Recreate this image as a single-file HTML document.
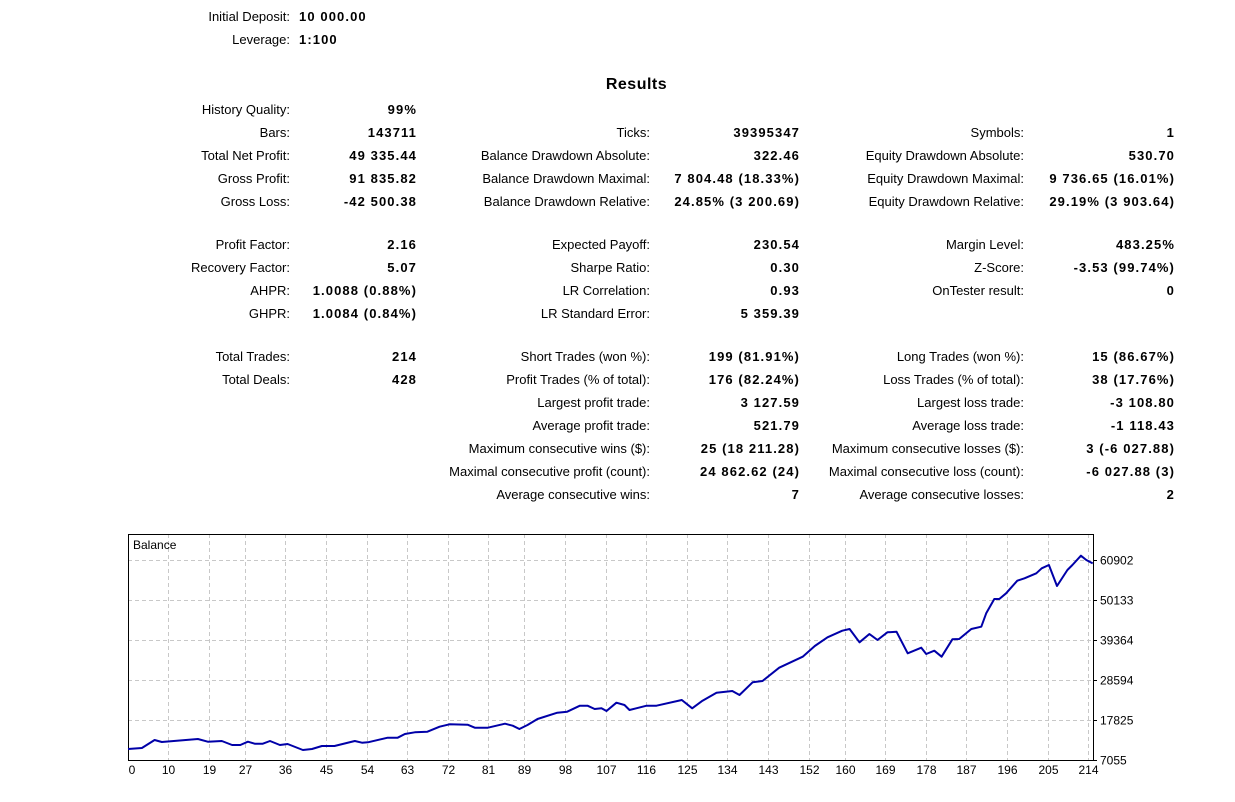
<!DOCTYPE html>
<html><head><meta charset="utf-8">
<style>
body{margin:0;width:1235px;height:802px;background:#fff;font-family:"Liberation Sans",sans-serif;font-size:13px;color:#000;position:relative;overflow:hidden}
.l,.v{position:absolute;white-space:nowrap;line-height:14px}
.l{text-align:right}
.v{text-align:right;font-weight:bold;letter-spacing:1.1px;margin-right:-1px}
#title{position:absolute;left:0;width:1273px;text-align:center;top:76px;font-weight:bold;font-size:16px;letter-spacing:0.5px}
svg{position:absolute;left:0;top:0}
</style></head><body>
<div class="l" style="right:945px;top:10px">Initial Deposit:</div>
<div class="v" style="left:299px;top:10px;text-align:left">10 000.00</div>
<div class="l" style="right:945px;top:33px">Leverage:</div>
<div class="v" style="left:299px;top:33px;text-align:left">1:100</div>
<div id="title">Results</div>
<div id="stats"></div>
<svg id="chart" width="1235" height="802"></svg>
<script>
var rows=[
[110,["History Quality:","99%"],null,null],
[133,["Bars:","143711"],["Ticks:","39395347"],["Symbols:","1"]],
[156,["Total Net Profit:","49 335.44"],["Balance Drawdown Absolute:","322.46"],["Equity Drawdown Absolute:","530.70"]],
[179,["Gross Profit:","91 835.82"],["Balance Drawdown Maximal:","7 804.48 (18.33%)"],["Equity Drawdown Maximal:","9 736.65 (16.01%)"]],
[202,["Gross Loss:","-42 500.38"],["Balance Drawdown Relative:","24.85% (3 200.69)"],["Equity Drawdown Relative:","29.19% (3 903.64)"]],
[245,["Profit Factor:","2.16"],["Expected Payoff:","230.54"],["Margin Level:","483.25%"]],
[268,["Recovery Factor:","5.07"],["Sharpe Ratio:","0.30"],["Z-Score:","-3.53 (99.74%)"]],
[291,["AHPR:","1.0088 (0.88%)"],["LR Correlation:","0.93"],["OnTester result:","0"]],
[314,["GHPR:","1.0084 (0.84%)"],["LR Standard Error:","5 359.39"],null],
[357,["Total Trades:","214"],["Short Trades (won %):","199 (81.91%)"],["Long Trades (won %):","15 (86.67%)"]],
[380,["Total Deals:","428"],["Profit Trades (% of total):","176 (82.24%)"],["Loss Trades (% of total):","38 (17.76%)"]],
[403,null,["Largest profit trade:","3 127.59"],["Largest loss trade:","-3 108.80"]],
[426,null,["Average profit trade:","521.79"],["Average loss trade:","-1 118.43"]],
[449,null,["Maximum consecutive wins ($):","25 (18 211.28)"],["Maximum consecutive losses ($):","3 (-6 027.88)"]],
[472,null,["Maximal consecutive profit (count):","24 862.62 (24)"],["Maximal consecutive loss (count):","-6 027.88 (3)"]],
[495,null,["Average consecutive wins:","7"],["Average consecutive losses:","2"]]];
var colL=[290,650,1024],colV=[416,799,1174];
var st=document.getElementById('stats');
rows.forEach(function(r){
 for(var c=0;c<3;c++){var p=r[c+1];if(!p)continue;
  var a=document.createElement('div');a.className='l';a.style.right=(1235-colL[c])+'px';a.style.top=(r[0]-7)+'px';a.textContent=p[0];
  
  
  st.appendChild(a);
  var b=document.createElement('div');b.className='v';b.style.right=(1235-colV[c])+'px';b.style.top=(r[0]-7)+'px';b.textContent=p[1];
  
  
  st.appendChild(b);}
});
</script>
<script>
var trades=[1.1,4.2,7,8.6,16.6,18.8,21.9,24.2,26,27.7,29.2,31,32.6,34.8,36.5,39.9,41.9,44.1,46.9,51.4,53,54.3,58.7,60.9,62.5,64.7,67.5,70.2,72.4,76.4,78,80.9,84.7,86.4,87.9,89.7,91.9,96.3,98.5,101.3,103,104.6,106.1,107.2,109.4,111.2,112.3,116.1,118.3,123.9,126.2,128.5,131.6,135.1,136.7,139.6,141.8,145.5,150.7,153.4,156.2,159.5,161.1,163.3,165.5,167.3,169.5,171.5,174,177,178.1,179.9,181.5,183.9,185.4,188.1,190.3,191.4,193.2,194.3,195.8,198.3,199.9,202.5,203.7,205.3,207.1,209.4,210.5,212.4,213.6,215];
var balance=[10016,10285,12439,11901,12708,11981,12170,11093,11093,11981,11443,11443,12170,11093,11362,9747,10016,10824,10824,12170,11712,11820,13058,13058,14054,14512,14673,16019,16665,16558,15750,15750,16827,16289,15400,16477,18092,19788,20057,21672,21672,20784,20972,20246,22480,21861,20515,21672,21672,23207,20972,23018,25172,25630,24553,27972,28322,31902,34863,37744,40086,41863,42320,38740,40974,39359,41432,41594,35779,37286,35590,36479,34863,39547,39628,42320,42939,46546,50396,50396,51930,55322,55968,57314,58661,59549,53896,58203,59549,62052,60895,59980];
var xTicks=[10,19,27,36,45,54,63,72,81,89,98,107,116,125,134,143,152,160,169,178,187,196,205,214];
var yTicks=[7055,17825,28594,39364,50133,60902];
var L=128,R=1093,T=534,B=760;
function xScale(i){return 123+i*4.51;}
function yScale(v){return B-(v-7055)*200/53847;}
var svg=document.getElementById('chart'),NS='http://www.w3.org/2000/svg';
function mk(t,a){var e=document.createElementNS(NS,t);for(var k in a)e.setAttribute(k,a[k]);svg.appendChild(e);return e;}
yTicks.forEach(function(v){var y=Math.round(yScale(v))+0.5;
 if(v!==yTicks[0]){var g=mk('line',{x1:L,x2:R,y1:y,y2:y,stroke:'#c8c8c8','stroke-dasharray':'4,3'});
 
 }
 var tk=mk('line',{x1:R,x2:R+4,y1:y,y2:y,stroke:'#000'});
 
 
 var t=mk('text',{x:R+7,y:y+4,'font-size':'12','font-family':'Liberation Sans, sans-serif'});t.textContent=v;
 
 });
xTicks.forEach(function(v){var x=Math.round(xScale(v))+0.5;
 var g=mk('line',{x1:x,x2:x,y1:T,y2:B,stroke:'#c8c8c8','stroke-dasharray':'4,3'});
 
 
 var t=mk('text',{x:x,y:B+14,'font-size':'12','text-anchor':'middle','font-family':'Liberation Sans, sans-serif'});t.textContent=v;
 
 });
var z=mk('text',{x:L+4,y:B+14,'font-size':'12','text-anchor':'middle','font-family':'Liberation Sans, sans-serif'});z.textContent='0';


var fr=mk('rect',{x:L+0.5,y:T+0.5,width:R-L,height:B-T,fill:'none',stroke:'#000'});


var ttl=mk('text',{x:L+5,y:T+15,'font-size':'12','font-family':'Liberation Sans, sans-serif'});ttl.textContent='Balance';


var pts=trades.map(function(t,i){return xScale(t).toFixed(1)+','+yScale(balance[i]).toFixed(1);}).join(' ');
var pl=mk('polyline',{points:pts,fill:'none',stroke:'#0000a8','stroke-width':'2','stroke-linejoin':'round'});


</script>
</body></html>
